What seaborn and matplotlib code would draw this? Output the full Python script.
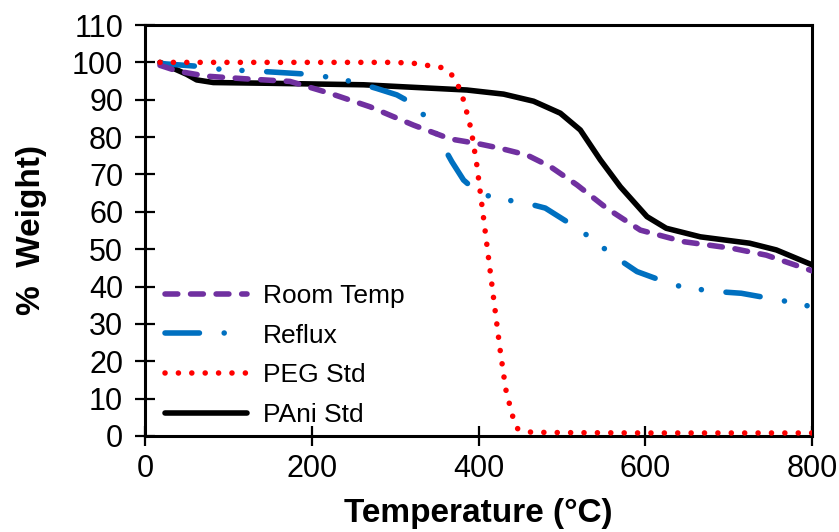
import pandas as pd
import matplotlib
matplotlib.use("Agg")
import matplotlib.pyplot as plt
import seaborn as sns

# values
room_temp_x = [18, 40, 74, 120, 174, 222, 270, 322, 366, 398, 426, 458, 486, 518, 554, 594, 646, 705, 745, 800]
room_temp_y = [99.2, 97.6, 96.3, 95.6, 94.9, 91.7, 88.1, 83.2, 79.5, 78.3, 77.0, 75.2, 72.1, 67.2, 60.9, 55.1, 52.0, 50.2, 48.4, 44.2]

reflux_x = [18, 66, 92, 120, 146, 198, 224, 252, 278, 302, 324, 341, 355, 368, 382, 400,
            426, 454, 480, 522, 544, 566, 590, 634, 662, 689, 715, 765, 790, 800]
reflux_y = [99.7, 98.9, 98.1, 97.8, 97.5, 96.8, 95.9, 94.7, 93.0, 91.3, 88.6, 84.1, 78.6, 73.4, 68.5, 65.0,
            63.4, 62.5, 61.0, 55.1, 51.3, 47.6, 44.0, 40.4, 39.3, 38.6, 38.2, 36.2, 35.1, 34.5]

peg_x = [18, 100, 200, 300, 325, 341, 356, 368, 376, 382, 386, 390, 393, 398, 402, 406, 410, 414,
         418, 422, 426, 430, 433, 437, 441, 447, 463, 500, 600, 700, 800]
peg_y = [100, 100, 100, 100, 99.7, 99.1, 98.6, 96.6, 93.5, 89.9, 86.5, 83.0, 79.4, 72.4, 65.3, 58.3, 51.1, 44.0,
         36.9, 29.8, 22.8, 16.5, 12.1, 8.6, 5.2, 1.9, 1.0, 0.9, 0.8, 0.8, 0.8]

pani_x = [18, 34, 50, 62, 82, 150, 262, 306, 386, 430, 466, 498, 522, 546, 570, 602, 625, 666, 725, 757, 800]
pani_y = [100, 98.4, 96.8, 95.3, 94.6, 94.4, 94.0, 93.5, 92.6, 91.5, 89.6, 86.4, 81.9, 73.9, 66.7, 58.7, 55.6,
          53.3, 51.6, 49.8, 45.8]

series = ["Room Temp", "Reflux", "PEG Std", "PAni Std"]
colors = ["#7030A0", "#0070C0", "#FF0000", "#000000"]

sns.set_style("ticks")
plt.rcParams["font.family"] = ["Liberation Sans", "DejaVu Sans"]
plt.rcParams["text.color"] = "black"
plt.rcParams["axes.labelcolor"] = "black"

fig = plt.figure(figsize=(8.39, 5.32), dpi=100)
ax = fig.add_axes([0.1728, 0.1805, 0.7952, 0.7725])

styles = {
    "Room Temp": dict(lw=4.0, ls=(0, (2.3, 2.3))),
    "Reflux": dict(lw=4.0, ls=(0, (6.2, 4.45, 0.01, 4.15, 0.01, 4.45))),
    "PEG Std": dict(lw=4.0, ls=(0, (0.01, 2.4))),
    "PAni Std": dict(lw=4.0, ls="-"),
}
data = {
    "Room Temp": (room_temp_x, room_temp_y),
    "Reflux": (reflux_x, reflux_y),
    "PEG Std": (peg_x, peg_y),
    "PAni Std": (pani_x, pani_y),
}
zorders = {"Room Temp": 4, "Reflux": 3, "PEG Std": 5, "PAni Std": 2}

for name, col in zip(series, colors):
    xs, ys = data[name]
    df = pd.DataFrame({"temp": xs, "weight": ys})
    sns.lineplot(data=df, x="temp", y="weight", ax=ax, color=col, label=name,
                 linewidth=styles[name]["lw"], linestyle=styles[name]["ls"],
                 estimator=None, zorder=zorders[name])

for line in ax.get_lines():
    line.set_dash_capstyle("round")
    line.set_solid_capstyle("round")

ax.set_xlim(0, 800)
ax.set_ylim(0, 110)
ax.set_xticks([0, 200, 400, 600, 800])
ax.set_yticks(range(0, 111, 10))
for sp in ax.spines.values():
    sp.set_linewidth(2.2)
    sp.set_color("black")
ax.tick_params(direction="inout", length=14.4, width=1.6, labelsize=22, colors="black")
ax.tick_params(axis="x", pad=6)
ax.tick_params(axis="y", pad=8.5)

ax.set_xlabel("Temperature (°C)", fontsize=24, fontweight="bold", labelpad=10)
ax.set_ylabel("%  Weight)", fontsize=24, fontweight="bold", labelpad=18)

leg = ax.legend(loc="lower left", bbox_to_anchor=(0.016, 0.0), frameon=False, fontsize=19,
                handlelength=3.13, handletextpad=0.6, labelspacing=0.59,
                borderaxespad=0.0, borderpad=0.35)
for h in leg.get_lines():
    h.set_dash_capstyle("round")
    h.set_solid_capstyle("round")

fig.savefig("out.png", dpi=100)
